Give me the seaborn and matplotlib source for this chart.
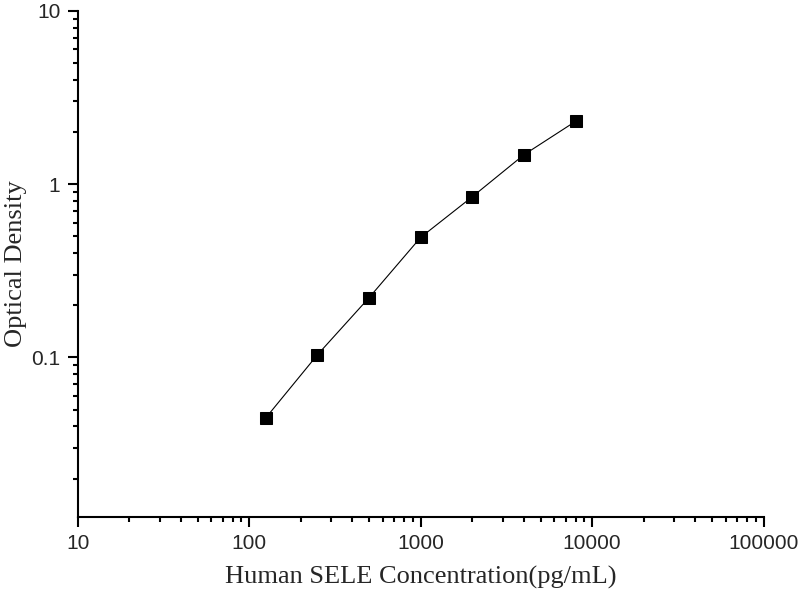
import numpy as np
import pandas as pd
import matplotlib
matplotlib.use('Agg')
import matplotlib.pyplot as plt
import matplotlib.ticker as mticker
import seaborn as sns

# standard curve readings
concentration = [125, 250, 500, 1000, 2000, 4000, 8000]
optical_density = [0.0448, 0.1035, 0.221, 0.4925, 0.845, 1.476, 2.30]

x_ticks = [10, 100, 1000, 10000, 100000]
x_tick_labels = ['10', '100', '1000', '10000', '100000']
y_ticks = [0.1, 1, 10]
y_tick_labels = ['0.1', '1', '10']

df = pd.DataFrame({'conc': concentration, 'od': optical_density})

sns.set_style('ticks')

fig = plt.figure(figsize=(8, 6), dpi=100)
ax = fig.add_axes([0.0971, 0.1383, 0.8575, 0.8438])

sns.lineplot(data=df, x='conc', y='od', ax=ax, color='black', linewidth=0.8,
             marker='s', markersize=8, markeredgecolor='black', markerfacecolor='black')

ax.set_xscale('log')
ax.set_yscale('log')
ax.set_xlim(10, 100000)
ax.set_ylim(0.012, 10)

ax.xaxis.set_major_locator(mticker.FixedLocator(x_ticks))
ax.xaxis.set_major_formatter(mticker.FixedFormatter(x_tick_labels))
ax.yaxis.set_major_locator(mticker.FixedLocator(y_ticks))
ax.yaxis.set_major_formatter(mticker.FixedFormatter(y_tick_labels))
ax.xaxis.set_minor_locator(mticker.LogLocator(base=10, subs=np.arange(2, 10)))
ax.yaxis.set_minor_locator(mticker.LogLocator(base=10, subs=np.arange(2, 10)))
ax.xaxis.set_minor_formatter(mticker.NullFormatter())
ax.yaxis.set_minor_formatter(mticker.NullFormatter())

for s in ['top', 'right']:
    ax.spines[s].set_visible(False)
for s in ['left', 'bottom']:
    ax.spines[s].set_linewidth(1.5)
    ax.spines[s].set_color('black')

ax.tick_params(which='major', direction='out', length=7.5, width=1.5, color='black', pad=5,
               labelsize=15)
ax.tick_params(which='minor', direction='out', length=3.75, width=1.5, color='black')
for lab in ax.get_xticklabels() + ax.get_yticklabels():
    lab.set_fontfamily('Liberation Sans')

ax.set_xlabel('Human SELE Concentration(pg/mL)', fontfamily='Liberation Serif', fontsize=19,
              labelpad=9)
ax.set_ylabel('Optical Density', fontfamily='Liberation Serif', fontsize=19, labelpad=3)

fig.savefig('out.png', dpi=100)
